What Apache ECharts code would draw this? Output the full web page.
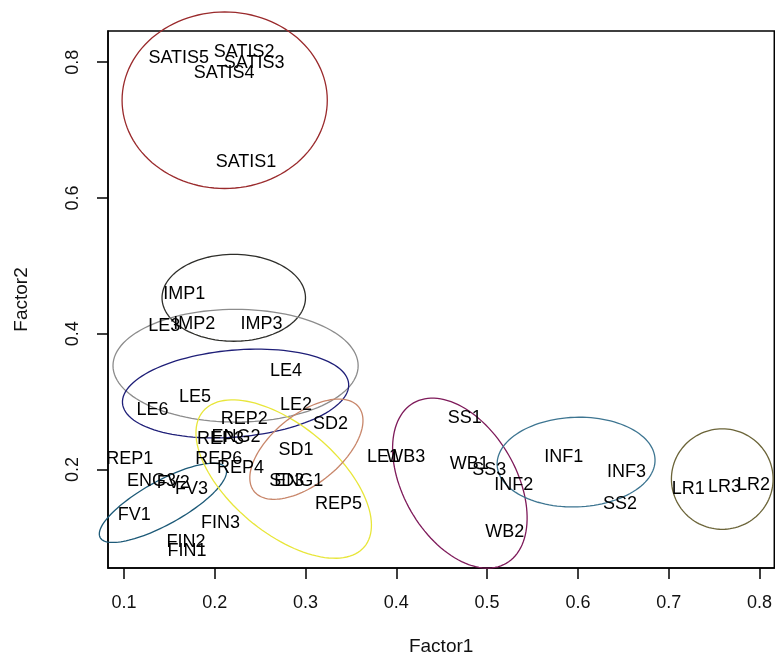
<!DOCTYPE html>
<html>
<head>
<meta charset="utf-8">
<script src="https://cdn.jsdelivr.net/npm/echarts@6/dist/echarts.min.js"></script>
<style>
  html, body { margin: 0; padding: 0; background: #fff; }
  #chart { width: 775px; height: 661px; }
</style>
</head>
<body>
<div id="chart"></div>
<script>
// item loadings
const itemNames = ['SATIS5','SATIS2','SATIS3','SATIS4','SATIS1',
  'IMP1','IMP2','IMP3','LE3','LE4','LE5','LE6','LE2',
  'REP2','SD2','REP3','ENG2','REP1','REP6','REP4','SD1','SD3','ENG1','REP5',
  'ENG3','FV2','FV3','FV1','FIN3','FIN2','FIN1',
  'LE1','WB3','SS1','WB1','SS3','INF2','WB2','INF1','INF3','SS2','LR1','LR3','LR2'];
const factor1 = [0.161,0.233,0.244,0.211,0.235,
  0.167,0.178,0.252,0.145,0.279,0.179,0.132,0.290,
  0.233,0.328,0.207,0.224,0.107,0.205,0.229,0.290,0.280,0.293,0.337,
  0.131,0.155,0.175,0.112,0.207,0.169,0.170,
  0.386,0.411,0.476,0.481,0.503,0.530,0.520,0.585,0.654,0.647,0.722,0.762,0.794];
const factor2 = [0.806,0.815,0.798,0.784,0.652,
  0.458,0.414,0.414,0.411,0.345,0.306,0.287,0.294,
  0.274,0.266,0.244,0.247,0.215,0.215,0.201,0.228,0.183,0.182,0.148,
  0.182,0.180,0.170,0.132,0.120,0.092,0.079,
  0.218,0.217,0.275,0.208,0.199,0.177,0.107,0.218,0.195,0.148,0.171,0.174,0.177];

// group ellipses: centre, half axes (x units / y units), tilt in degrees
const ellGroups = ['SATIS','IMP','LE','LE','FV','REP','SD','WB','INF','LR'];
const ellCx = [0.211,0.221,0.223,0.223,0.143,0.276,0.301,0.470,0.598,0.759];
const ellCy = [0.744,0.453,0.353,0.312,0.151,0.186,0.230,0.180,0.211,0.186];
const ellA = [0.113,0.079,0.135,0.125,0.079,0.116,0.074,0.102,0.087,0.056];
const ellB = [0.130,0.064,0.083,0.064,0.032,0.079,0.051,0.083,0.066,0.074];
const ellTilt = [0,0,0,-5,-29,40,-39,60,-2,0];

const xTicks = [0.1,0.2,0.3,0.4,0.5,0.6,0.7,0.8];
const yTicks = [0.2,0.4,0.6,0.8];

const ellColors = ['#9a2a2c','#2e2e2a','#8c8c8c','#1f1f78','#1d5a78',
  '#e8e63a','#c8866a','#7e1a5a','#3d7591','#6b6438'];

const chart = echarts.init(document.getElementById('chart'));
const font = 'Liberation Sans, Arial, sans-serif';

chart.setOption({
  animation: false,
  grid: { left: 108, right: -3, top: 31, bottom: 88, show: true,
          borderColor: '#000', borderWidth: 1.5, containLabel: false },
  xAxis: {
    type: 'value', min: 0.0825, max: 0.8163,
    name: 'Factor1', nameLocation: 'middle', nameGap: 69,
    nameTextStyle: { fontSize: 19, color: '#111', fontFamily: font },
    axisLine: { show: true, lineStyle: { color: '#000', width: 1.5 } },
    axisTick: { show: true, length: 11, customValues: xTicks,
                lineStyle: { color: '#000', width: 1.5 } },
    axisLabel: { customValues: xTicks, margin: 26, fontSize: 18, color: '#111',
                 fontFamily: font, formatter: v => v.toFixed(1) },
    splitLine: { show: false }
  },
  yAxis: {
    type: 'value', min: 0.055, max: 0.846,
    name: 'Factor2', nameLocation: 'middle', nameGap: 77, nameRotate: 90,
    nameTextStyle: { fontSize: 19, color: '#111', fontFamily: font },
    axisLine: { show: true, lineStyle: { color: '#000', width: 1.5 } },
    axisTick: { show: true, length: 11, customValues: yTicks,
                lineStyle: { color: '#000', width: 1.5 } },
    axisLabel: { customValues: yTicks, rotate: 90, margin: 26, fontSize: 18,
                 color: '#111', fontFamily: font, formatter: v => v.toFixed(1) },
    splitLine: { show: false }
  },
  series: [
    {
      type: 'custom',
      clip: false,
      data: ellGroups.map((g, i) => [ellCx[i], ellCy[i], ellA[i], ellB[i], ellTilt[i], g]),
      encode: { x: 0, y: 1 },
      renderItem: function (params, api) {
        const c = api.coord([api.value(0), api.value(1)]);
        const a = api.size([api.value(2), 0])[0];
        const b = api.size([0, api.value(3)])[1];
        const phi = api.value(4) * Math.PI / 180;
        const pts = [];
        for (let k = 0; k <= 120; k++) {
          const t = k / 120 * Math.PI * 2;
          const ex = a * Math.cos(t), ey = b * Math.sin(t);
          pts.push([c[0] + ex * Math.cos(phi) - ey * Math.sin(phi),
                    c[1] + ex * Math.sin(phi) + ey * Math.cos(phi)]);
        }
        return {
          type: 'polyline',
          shape: { points: pts },
          style: { stroke: ellColors[params.dataIndex], lineWidth: 1.3, fill: null }
        };
      },
      z: 3
    },
    {
      type: 'scatter',
      symbolSize: 1,
      itemStyle: { color: 'rgba(255,255,255,0)', opacity: 1 },
      data: itemNames.map((n, i) => ({ name: n, value: [factor1[i], factor2[i]] })),
      label: {
        show: true, position: [0, 0], align: 'center', verticalAlign: 'middle',
        formatter: '{b}', fontSize: 18, color: '#000', fontFamily: font,
        textBorderWidth: 0
      },
      z: 4
    }
  ]
});
</script>
</body>
</html>
